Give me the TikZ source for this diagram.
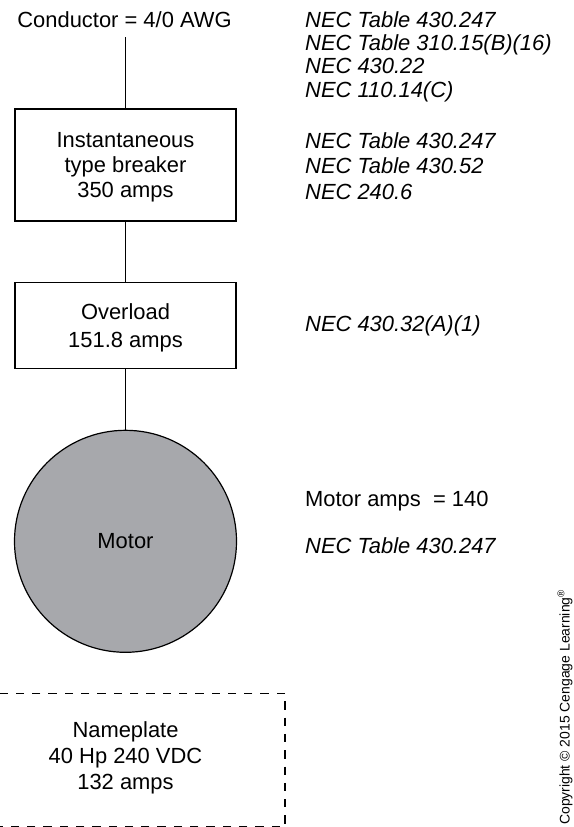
\documentclass[tikz,border=0pt]{standalone}
\usepackage{fontspec}
\setmainfont{Liberation Sans}
\usepackage{tikz}
\usetikzlibrary{positioning}
\definecolor{motorgray}     {RGB}{167, 168, 172}

\begin{document}
\begin{tikzpicture}[x=1bp,y=-1bp,
		every node/.style={font=\fontsize{22}{25.5}\selectfont},
		wire/.style={line width=1.3bp},
		partbox/.style={draw,line width=1.3bp,minimum width=221bp,align=center,text depth=0pt},
		reftext/.style={anchor=south west,inner sep=0pt,align=left,text depth=0pt,font=\fontsize{22}{25.5}\selectfont\itshape},
		valtext/.style={anchor=base west,inner sep=0pt},
		platedash/.style={line width=1.3bp,dash pattern=on 8.3bp off 8bp}]
	\useasboundingbox (0,0) rectangle (574,827);
	\node[anchor=base] (cond) at (124.5,27.3) {Conductor = 4/0 AWG};
	\node[partbox,minimum height=112bp] (brk) at (125.5,165) {Instantaneous\\type breaker\\350 amps};
	\node[partbox,minimum height=85.6bp,font=\fontsize{22}{27.7}\selectfont] (ovl) at (125.5,325.5) {Overload\\151.8 amps};
	\node[circle,draw,line width=1.2bp,fill=motorgray,minimum size=222bp,inner sep=0pt] (motor) at (125.5,541.3) {Motor};
	\node[anchor=south,inner sep=0pt,align=center,text depth=0pt,font=\fontsize{22}{26.5}\selectfont] (plate) at (125.5,790) {Nameplate\\40 Hp 240 VDC\\132 amps};
	\draw[wire] (brk.north |- cond.south) ++(0,6) -- (brk.north);
	\draw[wire] (brk) -- (ovl);
	\draw[wire] (ovl) -- (motor);
	\draw[platedash] (285,693.3) -- (-40,693.3);
	\draw[platedash,dash phase=8.3bp] (285,693.3) -- (285,826.6) -- (-40,826.6);
	\node[reftext,font=\fontsize{22}{23.3}\selectfont\itshape] (refcond) at (305,97.3) {NEC Table 430.247\\NEC Table 310.15(B)(16)\\NEC 430.22\\NEC 110.14(C)};
	\node[reftext] (refbrk) at (305,199.3) {NEC Table 430.247\\NEC Table 430.52\\NEC 240.6};
	\node[reftext] (refovl) at (305,331.7) {NEC 430.32(A)(1)};
	\node[valtext] (amps) at (305,506) {Motor amps\ \ = 140};
	\node[reftext] (refmotor) at (305,554) {NEC Table 430.247};
	\node[rotate=90,anchor=base west,inner sep=0pt,font=\fontsize{14}{16}\selectfont] (copy) at (569.5,825) {Copyright © 2015 Cengage Learning\textsuperscript{®}};
\end{tikzpicture}
\end{document}
